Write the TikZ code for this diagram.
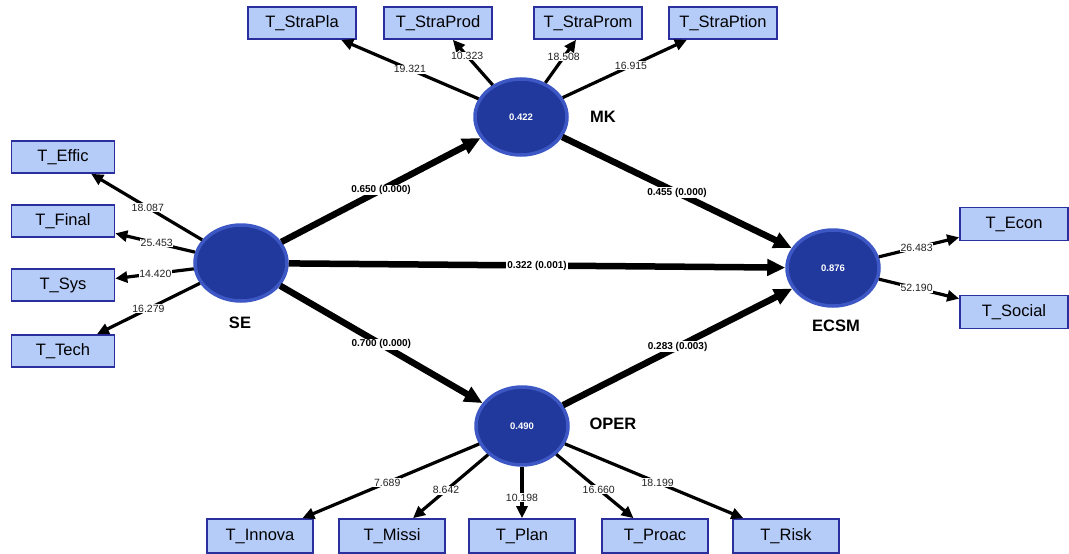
\documentclass[tikz,border=0pt]{standalone}
\usepackage{fontspec}
\setmainfont{Liberation Sans}
\usetikzlibrary{shapes.geometric,arrows.meta}
\definecolor{boxfill}{HTML}{B5CBF8}
\definecolor{boxdraw}{HTML}{2B2F9E}
\definecolor{lvfill}{HTML}{21399C}
\definecolor{lvring}{HTML}{3D58C4}
\definecolor{numgray}{HTML}{222222}
\begin{document}
\begin{tikzpicture}[x=1pt,y=-1pt,
 ind/.style={draw=boxdraw,fill=boxfill,line width=1.6pt,minimum width=106pt,minimum height=32pt,inner sep=0pt,font=\fontsize{16.5}{18}\selectfont},
 lv/.style={ellipse,draw=lvring,fill=lvfill,line width=3.5pt,minimum width=92pt,minimum height=76pt,inner sep=0pt,text=white,font=\bfseries\fontsize{9.5}{11}\selectfont},
 lvname/.style={font=\bfseries\fontsize{16.5}{18}\selectfont},
 load/.style={-{Triangle[length=12pt,width=11pt]},line width=3.2pt},
 struct/.style={-{Triangle[length=18pt,width=16pt]},line width=6.5pt},
 lw/.style={fill=white,inner sep=0.6pt,text=numgray,font=\fontsize{10.5}{12}\selectfont},
 pw/.style={fill=white,inner sep=0.8pt,font=\bfseries\fontsize{10}{12}\selectfont}]
\useasboundingbox[fill=white] (0,0) rectangle (1069,554);

% latent variables
\node[lv] (MK) at (521,117) {0.422};
\node[lv] (SE) at (241,263) {};
\node[lv] (ECSM) at (833,268) {0.876};
\node[lv,minimum height=78pt] (OPER) at (522,426) {0.490};

\node[lvname] (lMK) at (603,117) {MK};
\node[lvname] (lSE) at (240,323) {SE};
\node[lvname] (lECSM) at (836,326) {ECSM};
\node[lvname] (lOPER) at (613,424) {OPER};

% indicators
\node[ind,minimum width=108pt] (StraPla) at (302,23) {T\_StraPla};
\node[ind,minimum width=108pt] (StraProd) at (438,23) {T\_StraProd};
\node[ind,minimum width=108pt] (StraProm) at (588,23) {T\_StraProm};
\node[ind,minimum width=108pt] (StraPtion) at (723,23) {T\_StraPtion};

\node[ind,minimum width=103pt] (Effic) at (63,157) {T\_Effic};
\node[ind,minimum width=103pt] (Final) at (63,221) {T\_Final};
\node[ind,minimum width=103pt] (Sys) at (63,285) {T\_Sys};
\node[ind,minimum width=103pt] (Tech) at (63,351) {T\_Tech};

\node[ind,minimum width=108pt,minimum height=33pt] (Econ) at (1014,224) {T\_Econ};
\node[ind,minimum width=108pt,minimum height=33pt] (Social) at (1014,312) {T\_Social};

\node[ind,minimum height=34pt] (Innova) at (260,536) {T\_Innova};
\node[ind,minimum height=34pt] (Missi) at (392,536) {T\_Missi};
\node[ind,minimum height=34pt] (Plan) at (522,536) {T\_Plan};
\node[ind,minimum height=34pt] (Proac) at (655,536) {T\_Proac};
\node[ind,minimum height=34pt] (Risk) at (786,536) {T\_Risk};

% loadings MK
\draw[load] (MK) -- node[lw,pos=0.5] {19.321} (StraPla);
\draw[load] (MK) -- node[lw,pos=0.64] {10.323} (StraProd);
\draw[load] (MK) -- node[lw,pos=0.6] {18.508} (StraProm);
\draw[load] (MK) -- node[lw,pos=0.55] {16.915} (StraPtion);

% loadings SE
\draw[load] (SE) -- node[lw,pos=0.49] {18.087} (Effic);
\draw[load] (SE) -- node[lw,pos=0.48] {25.453} (Final);
\draw[load] (SE) -- node[lw,pos=0.49] {14.420} (Sys);
\draw[load] (SE) -- node[lw,pos=0.5] {16.279} (Tech);

% loadings ECSM
\draw[load] (ECSM) -- node[lw,pos=0.47] {26.483} (Econ);
\draw[load] (ECSM) -- node[lw,pos=0.47] {52.190} (Social);

% loadings OPER
\draw[load] (OPER) -- node[lw,pos=0.52] {7.689} (Innova);
\draw[load] (OPER) -- node[lw,pos=0.56] {8.642} (Missi);
\draw[load] (OPER) -- node[lw,pos=0.6] {10.198} (Plan);
\draw[load] (OPER) -- node[lw,pos=0.55] {16.660} (Proac);
\draw[load] (OPER) -- node[lw,pos=0.52] {18.199} (Risk);

% structural paths
\draw[struct] (SE) -- node[pw] {0.650 (0.000)} (MK);
\draw[struct] (MK) -- node[pw] {0.455 (0.000)} (ECSM);
\draw[struct] (SE) -- node[pw] {0.322 (0.001)} (ECSM);
\draw[struct] (SE) -- node[pw] {0.700 (0.000)} (OPER);
\draw[struct] (OPER) -- node[pw] {0.283 (0.003)} (ECSM);
\end{tikzpicture}
\end{document}
